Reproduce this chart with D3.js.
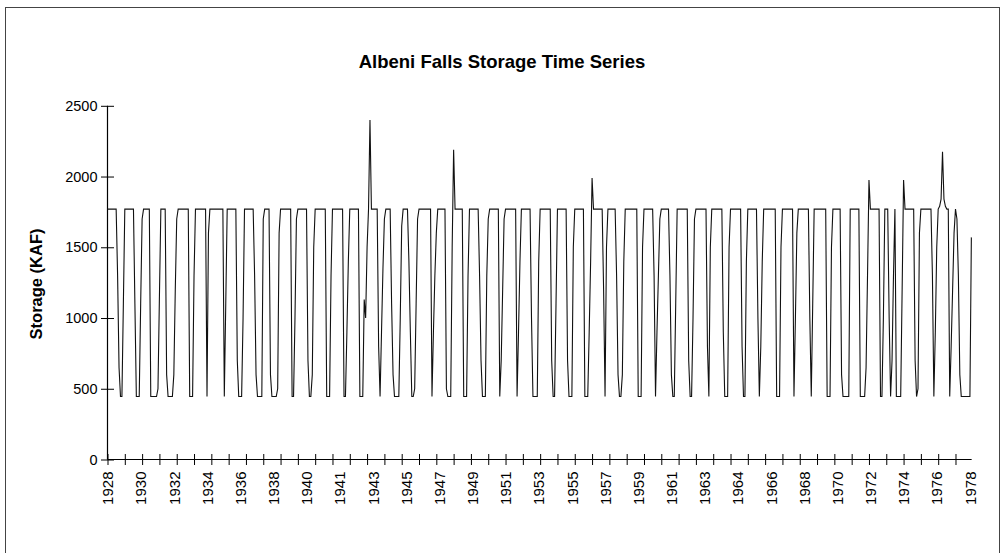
<!DOCTYPE html>
<html>
<head>
<meta charset="utf-8">
<script src="https://cdn.jsdelivr.net/npm/d3@7"></script>
<style>
  html, body { margin: 0; padding: 0; background: #fff; }
  svg { display: block; }
  text { font-family: "Liberation Sans", Arial, Helvetica, sans-serif; fill: #000; }
</style>
</head>
<body>
<svg id="chart" width="1005" height="553"></svg>
<script>
// ---- Data (monthly storage, KAF; one row per year of 12 points) ----
const chartTitle = "Albeni Falls Storage Time Series";
const yAxisTitle = "Storage (KAF)";
const xTickLabels = ["1928","1930","1932","1934","1936","1938","1940","1941","1943","1945",
  "1947","1949","1951","1953","1955","1957","1959","1961","1963","1964",
  "1966","1968","1970","1972","1974","1976","1978"];
const yTickValues = [0, 500, 1000, 1500, 2000, 2500];
const pointsPerLabel = 23;   // categories between x labels
const pointsPerTick = 12;    // categories between x tick marks
const storage = [
  1770,1770,1770,1770,1770,1770,1770,1300,650,445,445,1100,
  1770,1770,1770,1770,1770,1770,1770,1100,445,445,445,1100,
  1700,1770,1770,1770,1770,1770,445,445,445,445,445,500,
  1150,1770,1770,1770,1770,600,445,445,445,445,600,1200,
  1700,1770,1770,1770,1770,1770,1770,1770,1770,445,445,445,
  1300,1770,1770,1770,1770,1770,1770,1770,1770,445,1600,1770,
  1770,1770,1770,1770,1770,1770,1770,1770,1770,445,1100,1770,
  1770,1770,1770,1770,1770,1770,700,445,445,445,1000,1770,
  1770,1770,1770,1770,1770,1770,1300,600,445,445,445,445,
  1700,1770,1770,1770,1770,600,445,445,445,445,500,1600,
  1770,1770,1770,1770,1770,1770,1770,1770,445,445,1000,1700,
  1770,1770,1770,1770,1770,1770,1770,700,445,445,600,1500,
  1770,1770,1770,1770,1770,1770,1770,1770,445,445,445,1300,
  1770,1770,1770,1770,1770,1770,1770,1770,445,445,900,1400,
  1770,1770,1770,1770,1770,1770,1770,445,445,445,1130,1000,
  1500,1770,2400,1770,1770,1770,1770,1770,800,445,900,1350,
  1700,1770,1770,1770,1770,1100,600,445,445,445,445,1000,
  1650,1770,1770,1770,1770,1400,900,445,445,500,1100,1700,
  1770,1770,1770,1770,1770,1770,1770,1770,1770,445,900,1300,
  1600,1770,1770,1770,1770,1770,1770,500,445,445,445,1500,
  2190,1770,1770,1770,1770,1770,1770,445,445,445,1300,1770,
  1770,1770,1770,1770,1770,1770,1300,700,445,445,445,1300,
  1700,1770,1770,1770,1770,1770,1770,1770,445,700,1200,1700,
  1770,1770,1770,1770,1770,1770,1770,1770,445,900,1400,1770,
  1770,1770,1770,1770,1770,1770,1000,445,445,445,445,1400,
  1770,1770,1770,1770,1770,1770,1770,1770,700,445,445,1100,
  1770,1770,1770,1770,1770,1770,1770,700,445,445,445,1500,
  1770,1770,1770,1770,1770,1770,1770,445,445,445,900,1400,
  1990,1770,1770,1770,1770,1770,1770,1770,1200,445,1500,1770,
  1770,1770,1770,1770,1770,1300,600,445,445,600,1400,1770,
  1770,1770,1770,1770,1770,1770,1770,1770,445,445,445,1500,
  1770,1770,1770,1770,1770,1770,1770,1300,445,900,1300,1700,
  1770,1770,1770,1770,1770,1770,1300,600,445,445,1100,1770,
  1770,1770,1770,1770,1770,1770,1770,700,445,445,1000,1700,
  1770,1770,1770,1770,1770,1770,1770,1770,800,445,1500,1770,
  1770,1770,1770,1770,1770,1770,1770,900,445,445,445,1500,
  1770,1770,1770,1770,1770,1770,1770,1770,800,445,445,1400,
  1770,1770,1770,1770,1770,1770,1770,1000,445,800,1400,1770,
  1770,1770,1770,1770,1770,1770,1770,1770,445,445,445,1500,
  1770,1770,1770,1770,1770,1770,1770,1770,445,1000,1600,1770,
  1770,1770,1770,1770,1770,1770,1770,1000,445,1100,1770,1770,
  1770,1770,1770,1770,1770,1770,1770,445,445,445,1500,1770,
  1770,1770,1770,1770,1770,600,445,445,445,445,445,1770,
  1770,1770,1770,1770,1770,1770,445,445,445,445,650,1300,
  1975,1770,1770,1770,1770,1770,1770,1770,445,445,1000,1770,
  1770,1770,1000,445,700,1300,1770,445,445,445,445,1200,
  1975,1770,1770,1770,1770,1770,1770,1770,700,445,500,1600,
  1770,1770,1770,1770,1770,1770,1770,1770,1300,445,900,1500,
  1770,1790,1840,2175,1840,1790,1770,1770,445,800,1200,1600,
  1770,1700,1300,600,445,445,445,445,445,445,445,1570
];

// ---- Layout ----
const svg = d3.select("#chart");
const plotLeft = 107.5, plotRight = 972.8, plotTop = 105.8, plotBottom = 459.5;

// frame
svg.append("rect")
  .attr("x", 5.5).attr("y", 7.5).attr("width", 994).attr("height", 580)
  .attr("fill", "none").attr("stroke", "#444").attr("stroke-width", 1);

const x = d3.scaleLinear().domain([0, storage.length]).range([plotLeft, plotRight]);
const y = d3.scaleLinear().domain([0, 2500]).range([plotBottom, plotTop]);

// title
svg.append("text")
  .attr("x", 502).attr("y", 68)
  .attr("text-anchor", "middle")
  .style("font-size", "18.5px").style("font-weight", "bold")
  .text(chartTitle);

// y axis title
svg.append("text")
  .attr("transform", `translate(42,284) rotate(-90)`)
  .attr("text-anchor", "middle")
  .style("font-size", "16.5px").style("font-weight", "bold")
  .text(yAxisTitle);

// y axis: crossing ticks
const yTicks = svg.append("g")
  .attr("transform", `translate(${plotLeft + 6.5},0)`)
  .call(d3.axisLeft(y).tickValues(yTickValues).tickSize(13).tickSizeOuter(0).tickFormat(""));
yTicks.select(".domain").remove();
yTicks.selectAll("line").attr("stroke", "#000");

const yLabels = svg.append("g")
  .attr("transform", `translate(${plotLeft},0)`)
  .call(d3.axisLeft(y).tickValues(yTickValues).tickSize(0).tickPadding(10).tickFormat(d3.format("d")));
yLabels.select(".domain").remove();
yLabels.selectAll("text").style("font-size", "14.5px").attr("font-family", null);

svg.append("line")
  .attr("x1", plotLeft).attr("x2", plotLeft)
  .attr("y1", y(2500)).attr("y2", y(0))
  .attr("stroke", "#000").attr("stroke-width", 1.2);

// x axis: tick marks every 12 points (crossing), labels every 23 points
const tickIdx = d3.range(0, storage.length, pointsPerTick);
const xTicks = svg.append("g")
  .attr("transform", `translate(0,${plotBottom - 5.5})`)
  .call(d3.axisBottom(x).tickValues(tickIdx).tickSize(11).tickSizeOuter(0).tickFormat(""));
xTicks.select(".domain").remove();
xTicks.selectAll("line").attr("stroke", "#000");

const labelIdx = xTickLabels.map((d, i) => i * pointsPerLabel);
const xLabels = svg.append("g")
  .attr("transform", `translate(0,${plotBottom})`)
  .call(d3.axisBottom(x).tickValues(labelIdx).tickSize(0)
    .tickFormat((d, i) => xTickLabels[i]));
xLabels.select(".domain").remove();
xLabels.selectAll("text")
  .attr("font-family", null)
  .style("font-size", "15px")
  .attr("transform", "rotate(-90)")
  .attr("text-anchor", "end")
  .attr("x", -12)
  .attr("y", 0)
  .attr("dy", "0.35em");

svg.append("line")
  .attr("x1", plotLeft).attr("x2", x(storage.length - 0.8))
  .attr("y1", plotBottom).attr("y2", plotBottom)
  .attr("stroke", "#000").attr("stroke-width", 1.2);

// series line
const line = d3.line()
  .x((d, i) => x(i))
  .y(d => y(d));
svg.append("path")
  .datum(storage)
  .attr("d", line)
  .attr("fill", "none")
  .attr("stroke", "#111")
  .attr("stroke-width", 1.1)
  .attr("stroke-linejoin", "miter");
</script>
</body>
</html>
